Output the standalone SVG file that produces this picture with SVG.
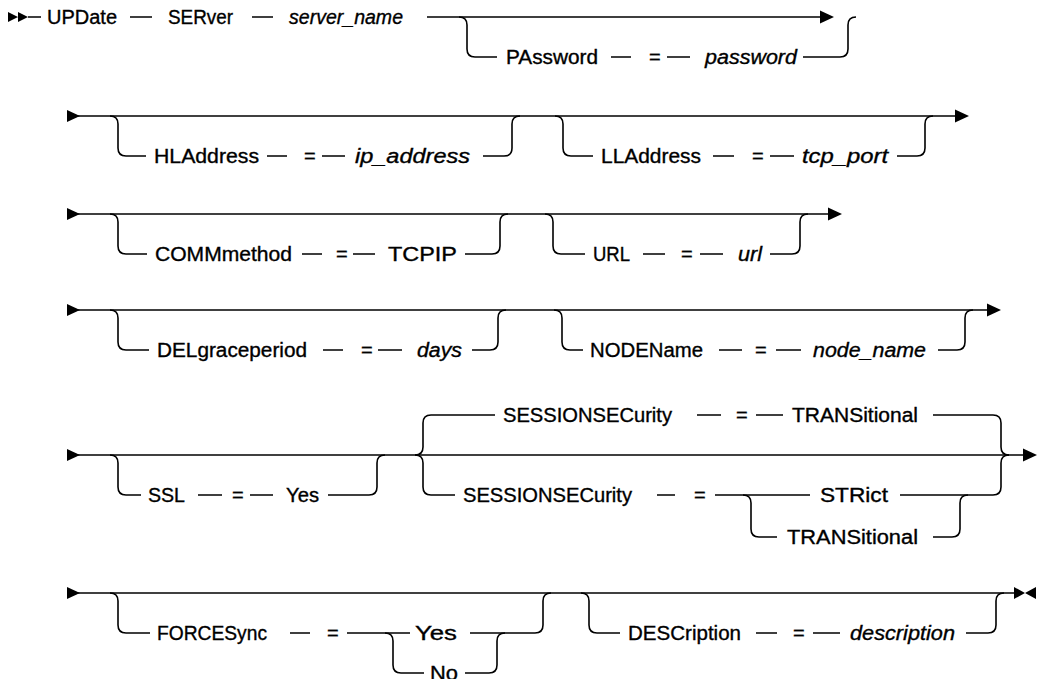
<svg xmlns="http://www.w3.org/2000/svg" xmlns:xlink="http://www.w3.org/1999/xlink" width="1039" height="679" viewBox="0 0 1039 679">
<style>
  .ln{fill:none;stroke:#000;stroke-width:1.6}
  .t{font-family:"Liberation Sans",Arial,sans-serif;font-size:20px;fill:#000;stroke:#000;stroke-width:0.35}
  .i{font-style:italic}
  .ah{fill:#000}
</style>
<defs>
  <path id="arr" class="ah" d="M0,-6.5 L14,0 L0,6.5 Z"/>
  <path id="sarr" class="ah" d="M0,-6 L13,0 L0,6 Z"/>
</defs>
<rect width="1039" height="679" fill="#fff"/>
<g id="connectors">
  <!-- row 1 -->
  <path class="ah" d="M8,12 L18,17 L8,22 Z M18,12 L28,17 L18,22 Z"/>
  <path class="ln" d="M28,17 H41 M130,17 H152 M252,17 H273 M427,17 H822"/>
  <use xlink:href="#arr" x="820" y="17"/>
  <path class="ln" d="M459,17 Q467,17 467,25 V49 Q467,57 475,57 H497 M611,57 H631 M667,57 H690 M803,57 H840 Q848,57 848,49 V25 Q848,17 856,17"/>
  <!-- row 2 -->
  <use xlink:href="#sarr" x="67" y="116"/>
  <path class="ln" d="M78,116 H957"/>
  <use xlink:href="#arr" x="955" y="116"/>
  <path class="ln" d="M110,116 Q118,116 118,124 V148 Q118,156 126,156 H146 M267,156 H287 M322,156 H345 M483,156 H504 Q512,156 512,148 V124 Q512,116 520,116"/>
  <path class="ln" d="M555,116 Q563,116 563,124 V148 Q563,156 571,156 H593 M713,156 H734 M770,156 H794 M897,156 H917 Q925,156 925,148 V124 Q925,116 933,116"/>
  <!-- row 3 -->
  <use xlink:href="#sarr" x="67" y="214"/>
  <path class="ln" d="M78,214 H830"/>
  <use xlink:href="#arr" x="828" y="214"/>
  <path class="ln" d="M110,214 Q118,214 118,222 V246 Q118,254 126,254 H147 M302,254 H322 M353,254 H375 M465,254 H492 Q500,254 500,246 V222 Q500,214 508,214"/>
  <path class="ln" d="M545,214 Q553,214 553,222 V246 Q553,254 561,254 H585 M643,254 H665 M700,254 H723 M770,254 H792 Q800,254 800,246 V222 Q800,214 808,214"/>
  <!-- row 4 -->
  <use xlink:href="#sarr" x="67" y="310"/>
  <path class="ln" d="M78,310 H989"/>
  <use xlink:href="#arr" x="987" y="310"/>
  <path class="ln" d="M110,310 Q118,310 118,318 V342 Q118,350 126,350 H149 M323,350 H343 M378,350 H402 M472,350 H490 Q498,350 498,342 V318 Q498,310 506,310"/>
  <path class="ln" d="M554,310 Q562,310 562,318 V342 Q562,350 570,350 H583 M719,350 H742 M776,350 H801 M938,350 H957 Q965,350 965,342 V318 Q965,310 973,310"/>
  <!-- row 5 -->
  <use xlink:href="#sarr" x="67" y="455"/>
  <path class="ln" d="M78,455 H1025"/>
  <use xlink:href="#arr" x="1023" y="455"/>
  <path class="ln" d="M110,455 Q118,455 118,463 V487 Q118,495 126,495 H141 M198,495 H222 M250,495 H273 M328,495 H369 Q377,495 377,487 V463 Q377,455 385,455"/>
  <path class="ln" d="M415,455 Q423,455 423,447 V423 Q423,415 431,415 H495 M697,415 H721 M756,415 H783 M933,415 H993 Q1001,415 1001,423 V447 Q1001,455 1009,455"/>
  <path class="ln" d="M415,455 Q423,455 423,463 V487 Q423,495 431,495 H455 M657,495 H675 M715,495 H810 M900,495 H993 Q1001,495 1001,487 V463 Q1001,455 1009,455"/>
  <path class="ln" d="M743,495 Q751,495 751,503 V529 Q751,537 759,537 H777 M933,537 H952 Q960,537 960,529 V503 Q960,495 968,495"/>
  <!-- row 6 -->
  <use xlink:href="#sarr" x="67" y="593"/>
  <path class="ln" d="M78,593 H1016"/>
  <path class="ah" d="M1014,587 L1025,593 L1014,599 Z M1036,587 L1025,593 L1036,599 Z"/>
  <path class="ln" d="M110,593 Q118,593 118,601 V625 Q118,633 126,633 H150 M290,633 H310 M347,633 H410 M470,633 H535 Q543,633 543,625 V601 Q543,593 551,593"/>
  <path class="ln" d="M385,633 Q393,633 393,641 V665 Q393,673 401,673 H424 M465,673 H489 Q497,673 497,665 V641 Q497,633 505,633"/>
  <path class="ln" d="M581,593 Q589,593 589,601 V625 Q589,633 597,633 H620 M756,633 H777 M813,633 H840 M966,633 H988 Q996,633 996,625 V601 Q996,593 1004,593"/>
</g>
<g id="n-update"><text class="t" x="47" y="24" textLength="70" lengthAdjust="spacingAndGlyphs">UPDate</text></g>
<g id="n-server"><text class="t" x="168" y="24" textLength="65" lengthAdjust="spacingAndGlyphs">SERver</text></g>
<g id="n-server-name"><text class="t i" x="289" y="24" textLength="114" lengthAdjust="spacingAndGlyphs">server_name</text></g>
<g id="n-password"><text class="t" x="506" y="64" textLength="92" lengthAdjust="spacingAndGlyphs">PAssword</text><text class="t" x="649" y="64">=</text><text class="t i" x="705" y="64" textLength="92" lengthAdjust="spacingAndGlyphs">password</text></g>
<g id="n-hladdress"><text class="t" x="154" y="163" textLength="105" lengthAdjust="spacingAndGlyphs">HLAddress</text><text class="t" x="304" y="163">=</text><text class="t i" x="355" y="163" textLength="115" lengthAdjust="spacingAndGlyphs">ip_address</text></g>
<g id="n-lladdress"><text class="t" x="601" y="163" textLength="100" lengthAdjust="spacingAndGlyphs">LLAddress</text><text class="t" x="752" y="163">=</text><text class="t i" x="802" y="163" textLength="86" lengthAdjust="spacingAndGlyphs">tcp_port</text></g>
<g id="n-commmethod"><text class="t" x="155" y="261" textLength="137" lengthAdjust="spacingAndGlyphs">COMMmethod</text><text class="t" x="336" y="261">=</text><text class="t" x="388" y="261" textLength="69" lengthAdjust="spacingAndGlyphs">TCPIP</text></g>
<g id="n-url"><text class="t" x="593" y="261" textLength="37" lengthAdjust="spacingAndGlyphs">URL</text><text class="t" x="681" y="261">=</text><text class="t i" x="738" y="261" textLength="24" lengthAdjust="spacingAndGlyphs">url</text></g>
<g id="n-delgrace"><text class="t" x="157" y="357" textLength="150" lengthAdjust="spacingAndGlyphs">DELgraceperiod</text><text class="t" x="361" y="357">=</text><text class="t i" x="417" y="357" textLength="45" lengthAdjust="spacingAndGlyphs">days</text></g>
<g id="n-nodename"><text class="t" x="590" y="357" textLength="113" lengthAdjust="spacingAndGlyphs">NODEName</text><text class="t" x="755" y="357">=</text><text class="t i" x="813" y="357" textLength="113" lengthAdjust="spacingAndGlyphs">node_name</text></g>
<g id="n-ssl"><text class="t" x="148" y="502" textLength="37" lengthAdjust="spacingAndGlyphs">SSL</text><text class="t" x="232" y="502">=</text><text class="t" x="286" y="502" textLength="33" lengthAdjust="spacingAndGlyphs">Yes</text></g>
<g id="n-sess-default"><text class="t" x="503" y="422" textLength="169" lengthAdjust="spacingAndGlyphs">SESSIONSECurity</text><text class="t" x="736" y="422">=</text><text class="t" x="792" y="422" textLength="126" lengthAdjust="spacingAndGlyphs">TRANSitional</text></g>
<g id="n-sess"><text class="t" x="463" y="502" textLength="169" lengthAdjust="spacingAndGlyphs">SESSIONSECurity</text><text class="t" x="694" y="502">=</text></g>
<g id="n-strict"><text class="t" x="820" y="502" textLength="68" lengthAdjust="spacingAndGlyphs">STRict</text></g>
<g id="n-transitional"><text class="t" x="787" y="544" textLength="131" lengthAdjust="spacingAndGlyphs">TRANSitional</text></g>
<g id="n-forcesync"><text class="t" x="157" y="640" textLength="110" lengthAdjust="spacingAndGlyphs">FORCESync</text><text class="t" x="327" y="640">=</text></g>
<g id="n-yes"><text class="t" x="415" y="640" textLength="42" lengthAdjust="spacingAndGlyphs">Yes</text></g>
<g id="n-no"><text class="t" x="430" y="680" textLength="28" lengthAdjust="spacingAndGlyphs">No</text></g>
<g id="n-description"><text class="t" x="628" y="640" textLength="113" lengthAdjust="spacingAndGlyphs">DESCription</text><text class="t" x="793" y="640">=</text><text class="t i" x="850" y="640" textLength="105" lengthAdjust="spacingAndGlyphs">description</text></g>
</svg>
